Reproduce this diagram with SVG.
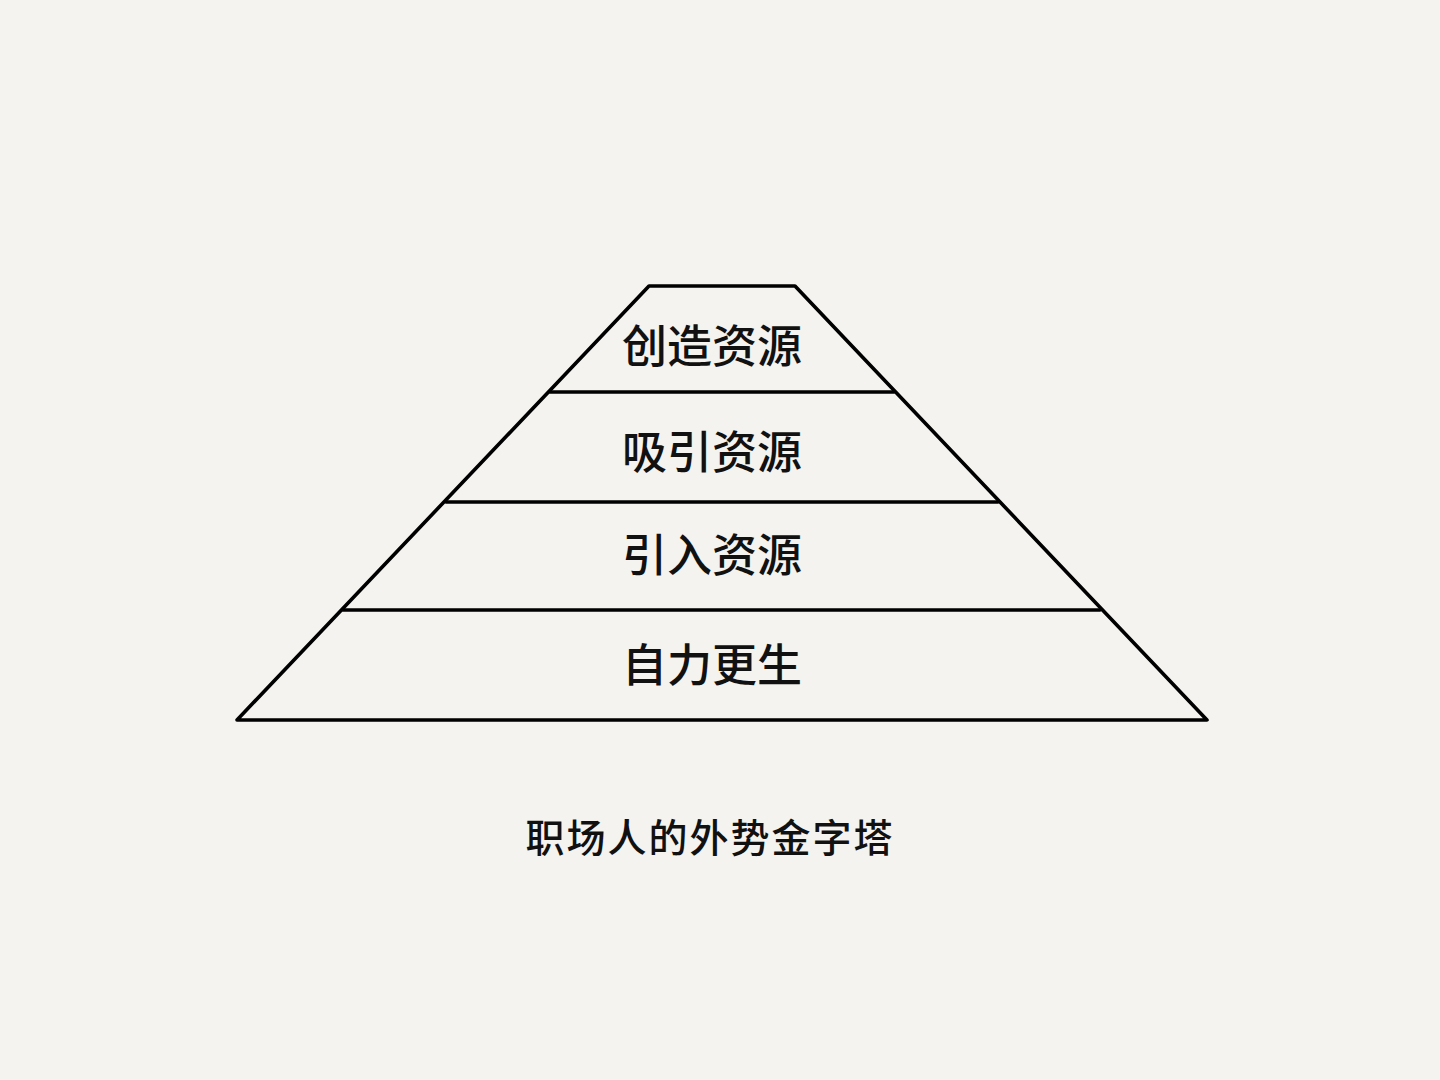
<svg xmlns="http://www.w3.org/2000/svg" width="1440" height="1080" viewBox="0 0 1440 1080">
<style>
.ln{stroke:#000;stroke-width:3.6;fill:none;stroke-linecap:round;stroke-linejoin:round}
.lbl{font-family:"Noto Sans CJK SC","Noto Sans",sans-serif;font-size:45px;font-weight:500;fill:#111;text-anchor:middle;dominant-baseline:central}
.ttl{font-family:"Noto Sans CJK SC","Noto Sans",sans-serif;font-size:39px;font-weight:500;fill:#111;text-anchor:middle;dominant-baseline:central;letter-spacing:2px}
</style>
<rect width="1440" height="1080" fill="#f4f3ef"/>
<g id="connectors">
<path class="ln" d="M649 286 L795 286 L1207 720 L237 720 Z"/>
<line class="ln" x1="550" y1="392" x2="894" y2="392"/>
<line class="ln" x1="446" y1="502" x2="998" y2="502"/>
<line class="ln" x1="343" y1="610" x2="1100" y2="610"/>
</g>
<g id="tier-create"><text class="lbl" x="712" y="343">创造资源</text></g>
<g id="tier-attract"><text class="lbl" x="712" y="449">吸引资源</text></g>
<g id="tier-introduce"><text class="lbl" x="712" y="552">引入资源</text></g>
<g id="tier-self"><text class="lbl" x="712" y="662">自力更生</text></g>
<g id="title"><text class="ttl" x="710" y="835">职场人的外势金字塔</text></g>
</svg>
